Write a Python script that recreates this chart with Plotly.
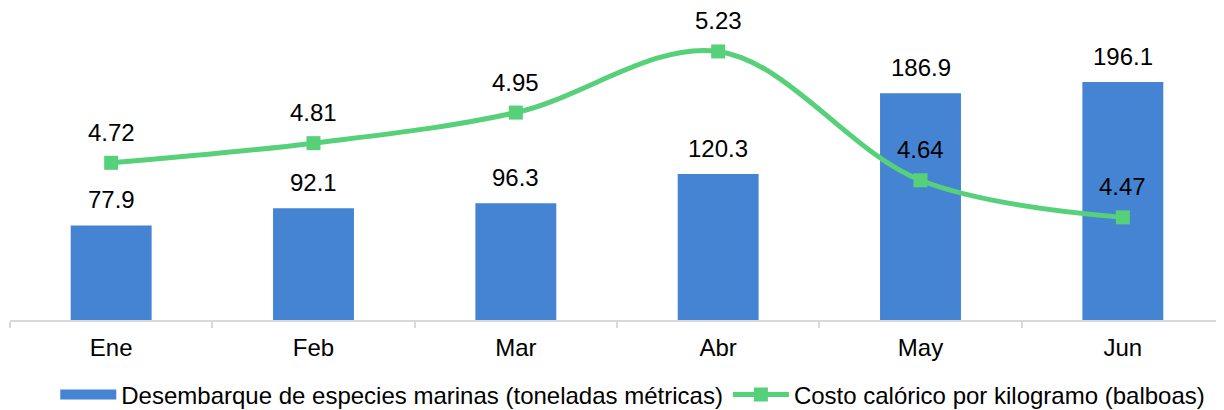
import plotly.graph_objects as go

months = ["Ene", "Feb", "Mar", "Abr", "May", "Jun"]
desembarque = [77.9, 92.1, 96.3, 120.3, 186.9, 196.1]
costo = [4.72, 4.81, 4.95, 5.23, 4.64, 4.47]

bar_name = "Desembarque de especies marinas (toneladas métricas)"
line_name = "Costo calórico por kilogramo (balboas)"

FONT = "Liberation Sans, Arial, sans-serif"
FS = 24
BAR_COLOR = "#4584D3"
LINE_COLOR = "#57D07A"

fig = go.Figure()
fig.add_trace(go.Bar(
    x=months, y=desembarque, name=bar_name, showlegend=False,
    marker=dict(color=BAR_COLOR, line=dict(width=0)),
    width=0.4,
))
# legend-only entry giving the wide rectangular swatch of the bar series
fig.add_trace(go.Scatter(
    x=[None], y=[None], name=bar_name, mode="lines",
    line=dict(color=BAR_COLOR, width=11),
))
fig.add_trace(go.Scatter(
    x=months, y=costo, name=line_name, yaxis="y2",
    mode="lines+markers",
    line=dict(color=LINE_COLOR, width=5, shape="spline", smoothing=1),
    marker=dict(symbol="square", size=14, color=LINE_COLOR),
))

annotations = []
for m, v in zip(months, desembarque):
    annotations.append(dict(x=m, y=v, xref="x", yref="y", text=f"{v:.1f}",
                            showarrow=False, yanchor="bottom", yshift=10,
                            font=dict(family=FONT, size=FS, color="#000000")))
for m, v in zip(months, costo):
    annotations.append(dict(x=m, y=v, xref="x", yref="y2", text=f"{v:.2f}",
                            showarrow=False, yanchor="bottom", yshift=15,
                            font=dict(family=FONT, size=FS, color="#000000")))

fig.update_layout(
    width=1224, height=410,
    margin=dict(l=2, r=8, t=0, b=98, autoexpand=False),
    paper_bgcolor="white", plot_bgcolor="white",
    font=dict(family=FONT, size=FS, color="#000000"),
    showlegend=True,
    legend=dict(orientation="h", x=0.513, xanchor="center", y=-0.168, yanchor="top",
                font=dict(family=FONT, size=FS), itemwidth=56, tracegroupgap=0,
                bgcolor="rgba(0,0,0,0)"),
    xaxis=dict(showline=True, linecolor="#D9D9D9", linewidth=1.5,
               ticks="outside", tickson="boundaries", ticklen=6, tickcolor="#D9D9D9",
               tickwidth=1.5, showgrid=False, tickfont=dict(size=FS),
               ticklabelstandoff=5),
    yaxis=dict(range=[0, 257.1], visible=False, showgrid=False),
    yaxis2=dict(range=[4.0, 5.429], overlaying="y", side="right", visible=False, showgrid=False),
    annotations=annotations,
)

fig.write_html("out.html")
